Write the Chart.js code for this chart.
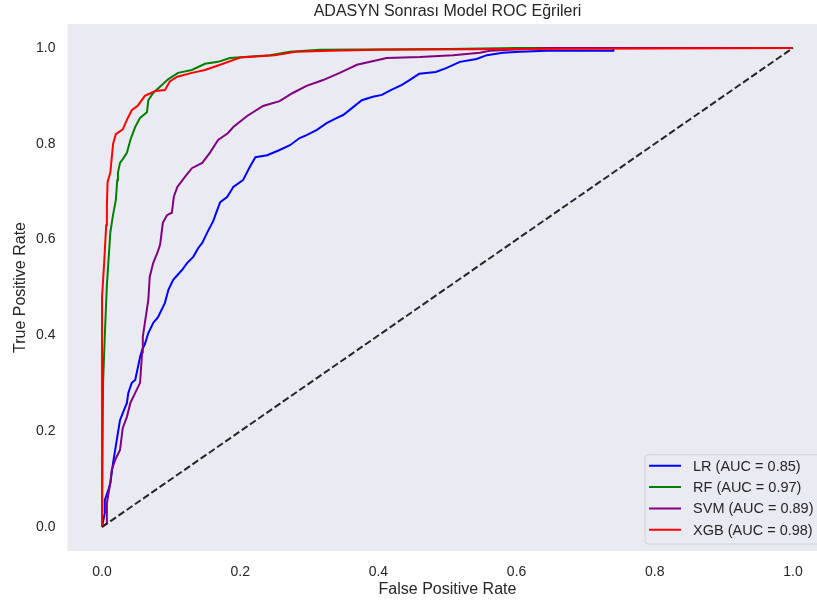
<!DOCTYPE html>
<html lang="tr">
<head>
    <meta charset="UTF-8">
    <title>ADASYN Sonrası Model ROC Eğrileri</title>
    <script src="https://cdn.jsdelivr.net/npm/chart.js"></script>
    <style>
        html, body {
            margin: 0;
            padding: 0;
            background: #fff;
            overflow: hidden;
        }
        #wrap {
            width: 840px;
            height: 606px;
        }
    </style>
</head>
<body>
    <div id="wrap">
        <canvas id="rocChart"></canvas>
    </div>

    <script>
        // Eksen tikleri
        const xTicks = [0.0, 0.2, 0.4, 0.6, 0.8, 1.0];
        const yTicks = [0.0, 0.2, 0.4, 0.6, 0.8, 1.0];

        const modelNames = ['LR (AUC = 0.85)', 'RF (AUC = 0.97)', 'SVM (AUC = 0.89)', 'XGB (AUC = 0.98)'];
        const modelColors = ['#0000ff', '#008000', '#800080', '#ff0000'];

        // LR
        const lrFpr = [0, 0.004, 0.004, 0.009, 0.012, 0.014, 0.016, 0.019, 0.022, 0.026, 0.030, 0.036, 0.038, 0.043, 0.048,
            0.052, 0.055, 0.058, 0.062, 0.067, 0.074, 0.081, 0.091, 0.096, 0.103, 0.116, 0.123, 0.132, 0.139, 0.145,
            0.152, 0.161, 0.164, 0.171, 0.181, 0.190, 0.204, 0.214, 0.222, 0.239, 0.257, 0.272, 0.286, 0.296, 0.311,
            0.325, 0.340, 0.349, 0.363, 0.376, 0.392, 0.405, 0.418, 0.434, 0.445, 0.459, 0.483, 0.498, 0.518, 0.542,
            0.557, 0.580, 0.605, 0.644, 0.740, 0.740, 1.0];
        const lrTpr = [0, 0.030, 0.056, 0.077, 0.092, 0.113, 0.134, 0.161, 0.188, 0.223, 0.238, 0.259, 0.280, 0.301, 0.307,
            0.334, 0.355, 0.370, 0.382, 0.405, 0.426, 0.438, 0.468, 0.495, 0.516, 0.537, 0.551, 0.564, 0.582, 0.593,
            0.614, 0.639, 0.651, 0.678, 0.689, 0.710, 0.724, 0.752, 0.772, 0.776, 0.787, 0.797, 0.812, 0.818, 0.829,
            0.843, 0.854, 0.860, 0.876, 0.891, 0.898, 0.902, 0.912, 0.923, 0.933, 0.946, 0.950, 0.958, 0.971, 0.977,
            0.985, 0.990, 0.992, 0.994, 0.994, 1.0, 1.0];

        // RF
        const rfFpr = [0, 0.0015, 0.004, 0.007, 0.012, 0.016, 0.020, 0.022, 0.023, 0.026, 0.029, 0.036, 0.041, 0.048,
            0.055, 0.065, 0.067, 0.074, 0.087, 0.096, 0.110, 0.130, 0.149, 0.168, 0.185, 0.243, 0.272, 0.315, 0.500,
            0.600, 1.0];
        const rfTpr = [0, 0.300, 0.400, 0.505, 0.615, 0.652, 0.683, 0.724, 0.740, 0.760, 0.766, 0.781, 0.808, 0.835,
            0.854, 0.866, 0.891, 0.906, 0.923, 0.935, 0.948, 0.954, 0.967, 0.971, 0.979, 0.985, 0.992, 0.996, 0.998,
            1.0, 1.0];

        // SVM
        const svmFpr = [0, 0.007, 0.007, 0.012, 0.014, 0.019, 0.026, 0.030, 0.036, 0.041, 0.048, 0.055, 0.058, 0.059,
            0.062, 0.067, 0.069, 0.074, 0.080, 0.084, 0.088, 0.094, 0.101, 0.104, 0.109, 0.120, 0.130, 0.145, 0.156,
            0.168, 0.182, 0.190, 0.210, 0.233, 0.257, 0.276, 0.296, 0.320, 0.344, 0.369, 0.388, 0.412, 0.460, 0.508,
            0.547, 0.561, 0.590, 0.650, 1.0];
        const svmTpr = [0, 0.008, 0.050, 0.092, 0.119, 0.140, 0.161, 0.207, 0.230, 0.259, 0.280, 0.301, 0.365, 0.397,
            0.426, 0.474, 0.522, 0.551, 0.572, 0.589, 0.635, 0.651, 0.656, 0.690, 0.710, 0.731, 0.749, 0.760, 0.781,
            0.808, 0.822, 0.835, 0.858, 0.879, 0.889, 0.906, 0.921, 0.933, 0.948, 0.965, 0.971, 0.979, 0.981, 0.985,
            0.990, 0.994, 0.996, 1.0, 1.0];

        // XGB
        const xgbFpr = [0, 0, 0.003, 0.006, 0.007, 0.008, 0.012, 0.016, 0.020, 0.030, 0.036, 0.043, 0.052, 0.062, 0.077,
            0.091, 0.098, 0.109, 0.130, 0.149, 0.171, 0.200, 0.250, 0.280, 0.330, 0.400, 0.600, 1.0];
        const xgbTpr = [0, 0.480, 0.550, 0.630, 0.670, 0.720, 0.740, 0.800, 0.820, 0.830, 0.850, 0.870, 0.880, 0.900, 0.910,
            0.912, 0.930, 0.940, 0.948, 0.954, 0.965, 0.980, 0.985, 0.992, 0.994, 0.996, 0.998, 1.0];

        // Rastgele tahmin çizgisi
        const diagX = [0, 1];
        const diagY = [0, 1];

        const FONT = '"Liberation Sans", Arial, sans-serif';
        const TEXT = '#262626';

        function pts(xs, ys) {
            return xs.map((x, i) => ({ x: x, y: ys[i] }));
        }

        const allFpr = [lrFpr, rfFpr, svmFpr, xgbFpr];
        const allTpr = [lrTpr, rfTpr, svmTpr, xgbTpr];

        const datasets = modelNames.map((name, i) => ({
            label: name,
            data: pts(allFpr[i], allTpr[i]),
            borderColor: modelColors[i],
            borderWidth: 2,
            showLine: true,
            pointRadius: 0,
            tension: 0,
            order: 4 - i
        }));
        datasets.push({
            label: 'diag',
            data: pts(diagX, diagY),
            borderColor: '#262626',
            borderWidth: 2,
            borderDash: [7, 3],
            showLine: true,
            pointRadius: 0,
            order: 0
        });

        // Çizim alanı arka planı
        const plotBg = {
            id: 'plotBg',
            beforeDraw(chart) {
                const { ctx, chartArea: a } = chart;
                ctx.save();
                ctx.fillStyle = '#eaeaf2';
                ctx.fillRect(a.left, a.top, a.right - a.left, a.bottom - a.top);
                ctx.restore();
            }
        };

        // Başlık ve açıklama kutusu
        const decor = {
            id: 'decor',
            afterDraw(chart) {
                const { ctx, chartArea: a } = chart;
                ctx.save();
                ctx.fillStyle = TEXT;
                ctx.font = '16px ' + FONT;
                ctx.textAlign = 'center';
                ctx.textBaseline = 'middle';
                ctx.fillText('ADASYN Sonrası Model ROC Eğrileri', (a.left + a.right) / 2, 12);

                ctx.font = '14.5px ' + FONT;
                let tw = 0;
                modelNames.forEach(n => { tw = Math.max(tw, ctx.measureText(n).width); });
                const rowH = 21.3;
                const w = 48 + tw + 7;
                const h = rowH * modelNames.length + 4;
                const right = a.right - 7;
                const bottom = a.bottom - 7;
                const left = right - w;
                const top = bottom - h;
                ctx.beginPath();
                ctx.roundRect(left, top, w, h, 3);
                ctx.fillStyle = 'rgba(234,234,242,0.8)';
                ctx.fill();
                ctx.strokeStyle = '#d0d0d6';
                ctx.lineWidth = 1;
                ctx.stroke();

                ctx.textAlign = 'left';
                modelNames.forEach((n, i) => {
                    const cy = top + 11 + i * rowH;
                    ctx.beginPath();
                    ctx.moveTo(left + 4, cy);
                    ctx.lineTo(left + 36, cy);
                    ctx.strokeStyle = modelColors[i];
                    ctx.lineWidth = 2;
                    ctx.stroke();
                    ctx.fillStyle = TEXT;
                    ctx.fillText(n, left + 48, cy + 1);
                });
                ctx.restore();
            }
        };

        const config = {
            type: 'scatter',
            data: { datasets: datasets },
            options: {
                responsive: true,
                maintainAspectRatio: false,
                animation: false,
                layout: {
                    padding: { top: 24, right: 12.5, left: 0, bottom: 0 }
                },
                plugins: {
                    legend: { display: false },
                    title: { display: false },
                    tooltip: { enabled: false }
                },
                scales: {
                    x: {
                        type: 'linear',
                        min: -0.05,
                        max: 1.05,
                        grid: { display: false, drawTicks: false },
                        border: { display: false },
                        afterBuildTicks: (s) => { s.ticks = xTicks.map(v => ({ value: v })); },
                        afterFit: (s) => { s.height = 55; },
                        ticks: {
                            padding: 13,
                            color: TEXT,
                            font: { family: FONT, size: 14 },
                            callback: (v) => Number(v).toFixed(1)
                        },
                        title: {
                            display: true,
                            text: 'False Positive Rate',
                            color: TEXT,
                            font: { family: FONT, size: 16 },
                            padding: { top: 0, bottom: 7 }
                        }
                    },
                    y: {
                        type: 'linear',
                        min: -0.05,
                        max: 1.05,
                        grid: { display: false, drawTicks: false },
                        border: { display: false },
                        afterBuildTicks: (s) => { s.ticks = yTicks.map(v => ({ value: v })); },
                        afterFit: (s) => { s.width = 67.5; },
                        ticks: {
                            padding: 12,
                            color: TEXT,
                            font: { family: FONT, size: 14 },
                            callback: (v) => Number(v).toFixed(1)
                        },
                        title: {
                            display: true,
                            text: 'True Positive Rate',
                            color: TEXT,
                            font: { family: FONT, size: 16 },
                            padding: { top: 11, bottom: 0 }
                        }
                    }
                }
            },
            plugins: [plotBg, decor]
        };

        const ctx = document.getElementById('rocChart').getContext('2d');
        const rocChart = new Chart(ctx, config);
    </script>
</body>
</html>
